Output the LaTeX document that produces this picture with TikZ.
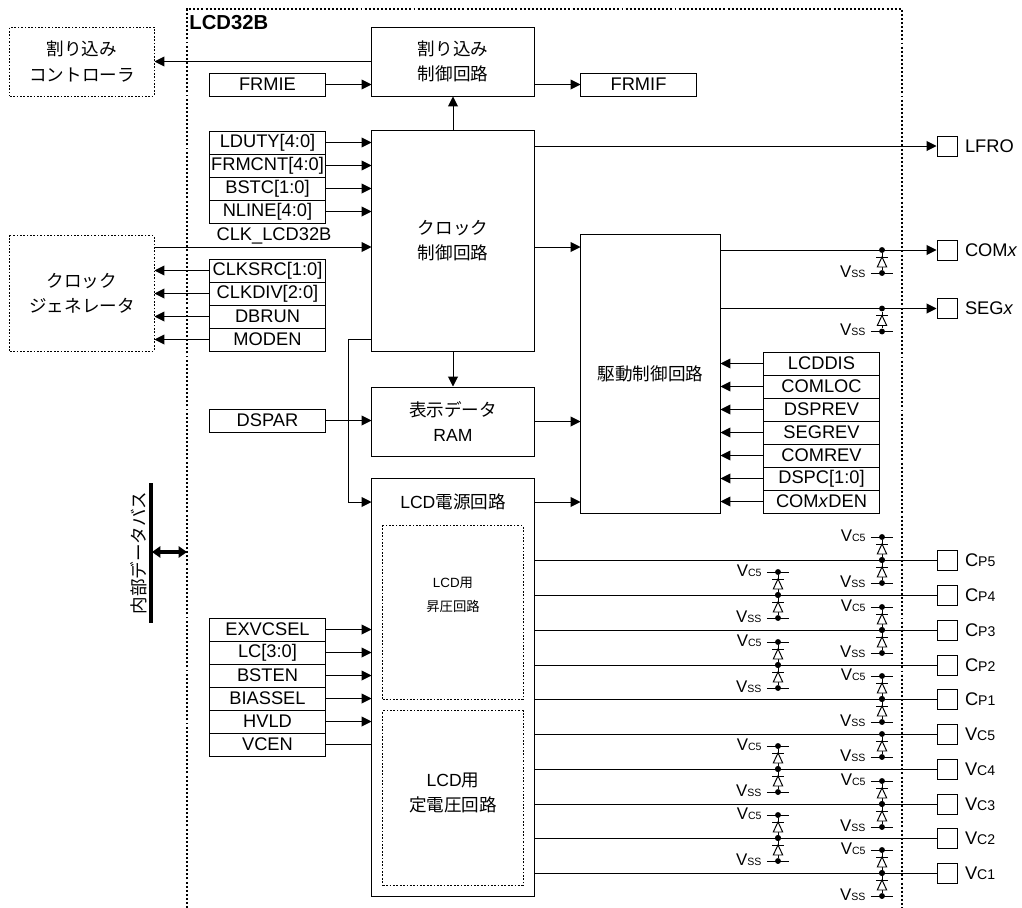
\documentclass[tikz,border=0pt]{standalone}
\usepackage{fontspec}
\setmainfont{Liberation Sans}
\newfontfamily\jpfont{Noto Sans CJK JP}
\usetikzlibrary{arrows.meta,positioning}
\newcommand{\lowtxt}[1]{{\fontsize{7.5}{9}\selectfont #1}}
\newcommand{\padlow}[1]{{\fontsize{10}{12}\selectfont #1}}
\tikzset{
	regbox/.style={draw,minimum width=2.875cm,minimum height=0.575cm,inner sep=0pt,font=\fontsize{13}{15}\selectfont},
	blockbox/.style={draw,minimum width=4.05cm,inner sep=0pt,align=center,font=\fontsize{12.5}{17.8}\selectfont\jpfont},
	extbox/.style={draw,dash pattern=on 1.2pt off 1.2pt,minimum width=3.6cm,inner sep=0pt,align=center,font=\fontsize{12.5}{17.8}\selectfont\jpfont},
	innerbox/.style={draw,dash pattern=on 1.2pt off 1.2pt,minimum width=3.5cm,inner sep=0pt},
	padbox/.style={draw,minimum size=0.5cm,inner sep=0pt},
	padtext/.style={inner sep=0pt,font=\fontsize{13}{15}\selectfont},
	clamptext/.style={inner sep=0pt,anchor=base east,font=\fontsize{12}{14}\selectfont},
	wiredot/.style={circle,fill,minimum size=4.2pt,inner sep=0pt},
	sig/.style={-{Triangle[length=7pt,width=7pt]}},
	diodepart/.pic={
		\draw[fill=white] (0,-5)--(-4.7,5)--(4.7,5)--cycle;
		\draw (-5.8,-5)--(5.8,-5);
	}
}
\begin{document}
\begin{tikzpicture}[x=0.025cm,y=-0.025cm,line width=0.7pt]
	\useasboundingbox (0,0) rectangle (1022,908);
	% module frame, open at the bottom
	\draw[line width=1.2pt,dash pattern=on 1.4pt off 1.5pt] (187,908)--(187,9)--(902,9)--(902,908);
	\node[anchor=west,inner sep=0pt,font=\fontsize{14.4}{16}\selectfont\bfseries] (modname) at (189,23) {LCD32B};
	% outside blocks
	\node[extbox,minimum height=1.725cm] (intc) at (82,61.5) {割り込み\\コントローラ};
	\node[extbox,minimum height=2.875cm] (clkgen) at (82,293.5) {クロック\\ジェネレータ};
	% main blocks
	\node[blockbox,minimum height=1.725cm] (irq) at (453,61.5) {割り込み\\制御回路};
	\node[blockbox,minimum height=5.5cm] (clkctl) at (453,241) {クロック\\制御回路};
	\node[blockbox,minimum height=1.725cm] (dram) at (453,421.5) {表示データ\\{\rmfamily RAM}};
	\node[blockbox,minimum height=10.425cm] (pwr) at (453,687.5) {};
	\node[inner sep=0pt,font=\fontsize{12.5}{15}\selectfont] (pwrname) at (453,502) {LCD{\jpfont 電源回路}};
	\node[innerbox,minimum height=4.325cm] (boost) at (453,612.5) {};
	\node[innerbox,minimum height=4.35cm] (regu) at (453,798) {};
	\node[inner sep=0pt,align=center,font=\fontsize{9.5}{17.5}\selectfont] (boosttxt) at (453,595) {LCD{\jpfont 用}\\{\jpfont 昇圧回路}};
	\node[inner sep=0pt,align=center,font=\fontsize{12.5}{17.5}\selectfont] (regutxt) at (453,793) {LCD{\jpfont 用}\\{\jpfont 定電圧回路}};
	\node[draw,minimum width=3.475cm,minimum height=6.95cm,inner sep=0pt,font=\fontsize{12.5}{15}\selectfont\jpfont] (drv) at (650.5,374) {駆動制御回路};
	% registers
	\node[regbox] (frmie) at (267.5,84.5) {FRMIE};
	\node[regbox] (frmif) at (638.5,84.5) {FRMIF};
	\node[regbox] (lduty) at (267.5,142.5) {LDUTY[4:0]};
	\node[regbox] (frmcnt) at (267.5,165.5) {FRMCNT[4:0]};
	\node[regbox] (bstc) at (267.5,188.5) {BSTC[1:0]};
	\node[regbox] (nline) at (267.5,211.5) {NLINE[4:0]};
	\node[regbox] (clksrc) at (267.5,270.5) {CLKSRC[1:0]};
	\node[regbox] (clkdiv) at (267.5,293.5) {CLKDIV[2:0]};
	\node[regbox] (dbrun) at (267.5,316.5) {DBRUN};
	\node[regbox] (moden) at (267.5,339.5) {MODEN};
	\node[regbox] (dspar) at (267.5,420.5) {DSPAR};
	\node[regbox] (exvcsel) at (267.5,629.5) {EXVCSEL};
	\node[regbox] (lcbits) at (267.5,652.5) {LC[3:0]};
	\node[regbox] (bsten) at (267.5,675.5) {BSTEN};
	\node[regbox] (biassel) at (267.5,698.5) {BIASSEL};
	\node[regbox] (hvld) at (267.5,721.5) {HVLD};
	\node[regbox] (vcen) at (267.5,744.5) {VCEN};
	\node[regbox] (lcddis) at (821.5,363.5) {LCDDIS};
	\node[regbox] (comloc) at (821.5,386.5) {COMLOC};
	\node[regbox] (dsprev) at (821.5,409.5) {DSPREV};
	\node[regbox] (segrev) at (821.5,432.5) {SEGREV};
	\node[regbox] (comrev) at (821.5,455.5) {COMREV};
	\node[regbox] (dspc) at (821.5,478.5) {DSPC[1:0]};
	\node[regbox] (comxden) at (821.5,501.5) {COM\textit{x}DEN};
	\node[inner sep=0pt,font=\fontsize{13}{15}\selectfont] (clktxt) at (274,236) {CLK\_LCD32B};
	% connections, top blocks
	\draw[sig] (irq.west) -- (intc.east);
	\draw[sig] (frmie.east) -- (irq.west |- frmie.east);
	\draw[sig] (irq.east |- frmif.west) -- (frmif.west);
	\draw[sig] (clkctl.north) -- (irq.south);
	\draw[sig] (clkctl.south) -- (dram.north);
	\foreach \reg in {lduty,frmcnt,bstc,nline}
		\draw[sig] (\reg.east) -- (clkctl.west |- \reg.east);
	\coordinate (clkrow) at (260,247);
	\draw[sig] (clkgen.east |- clkrow) -- (clkctl.west |- clkrow);
	\foreach \reg in {clksrc,clkdiv,dbrun,moden}
		\draw[sig] (\reg.west) -- (clkgen.east |- \reg.west);
	\coordinate (feedtop) at (348,339.5);
	\coordinate (feedlow) at (348,502);
	\draw[sig] (clkctl.west |- feedtop) -- (feedtop) -- (feedlow) -- (pwr.west |- feedlow);
	\draw[sig] (dspar.east) -- (dram.west |- dspar.east);
	\foreach \reg in {exvcsel,lcbits,bsten,biassel,hvld}
		\draw[sig] (\reg.east) -- (pwr.west |- \reg.east);
	\draw (vcen.east) -- (pwr.west |- vcen.east);
	% into the driver block
	\coordinate (clkdrv) at (560,247);
	\draw[sig] (clkctl.east |- clkdrv) -- (drv.west |- clkdrv);
	\draw[sig] (dram.east) -- (drv.west |- dram.east);
	\draw[sig] (pwr.east |- feedlow) -- (drv.west |- feedlow);
	\foreach \reg in {lcddis,comloc,dsprev,segrev,comrev,dspc,comxden}
		\draw[sig] (\reg.west) -- (drv.east |- \reg.west);
	% internal data bus
	\coordinate (bustop) at (151,483);
	\coordinate (buslow) at (151,623);
	\coordinate (busmid) at (152,552);
	\coordinate (busend) at (187,552);
	\draw[line width=2.8pt] (bustop) -- (buslow);
	\draw[line width=2.2pt,{Triangle[length=6pt,width=8pt]}-{Triangle[length=6pt,width=8pt]}] (busmid) -- (busend);
	\node[rotate=90,inner sep=0pt,font=\fontsize{12.5}{15}\selectfont\jpfont] (bustxt) at (139,553) {内部データバス};
	% pads
	\node[padbox] (lfro) at (947,146) {};
	\node[padbox] (comx) at (947,250) {};
	\node[padbox] (segx) at (947,308.5) {};
	\foreach \pad/\py/\ptxt in {cpa/560/C\padlow{P5},cpb/595/C\padlow{P4},cpc/630/C\padlow{P3},cpd/665/C\padlow{P2},cpe/699/C\padlow{P1},
			vca/734/V\padlow{C5},vcb/769/V\padlow{C4},vcc/804/V\padlow{C3},vcd/838/V\padlow{C2},vce/873/V\padlow{C1}} {
		\node[padbox] (\pad) at (947,\py) {};
		\node[padtext,right=5pt of \pad] (\pad txt) {\ptxt};
		\draw (pwr.east |- \pad.west) -- (\pad.west);
	}
	\node[padtext,right=5pt of lfro] (lfrotxt) {LFRO};
	\node[padtext,right=5pt of comx] (comxtxt) {COM\textit{x}};
	\node[padtext,right=5pt of segx] (segxtxt) {SEG\textit{x}};
	\draw[sig] (clkctl.east |- lfro.west) -- (lfro.west);
	\draw[sig] (drv.east |- comx.west) -- (comx.west);
	\draw[sig] (drv.east |- segx.west) -- (segx.west);
	% diodes down to VSS
	\foreach \cx/\cy in {882/250,882/308.5,882/560,778/595,882/630,778/665,882/699,882/734,778/769,882/804,778/838,882/873} {
		\node[wiredot] (mid) at (\cx,\cy) {};
		\node[wiredot] (low) at (\cx,\cy+23) {};
		\draw (mid) -- (low);
		\draw ([xshift=-8pt]low.center) -- ([xshift=8pt]low.center);
		\pic at (\cx,\cy+12) {diodepart};
		\node[clamptext] (lowtxt) at (\cx-16,\cy+27) {V\lowtxt{SS}};
	}
	% diodes up to VC5
	\foreach \cx/\cy in {882/560,778/595,882/630,778/665,882/699,778/769,882/804,778/838,882/873} {
		\node[wiredot] (mid) at (\cx,\cy) {};
		\node[wiredot] (high) at (\cx,\cy-23) {};
		\draw (mid) -- (high);
		\draw ([xshift=-8pt]high.center) -- ([xshift=8pt]high.center);
		\pic at (\cx,\cy-11) {diodepart};
		\node[clamptext] (hightxt) at (\cx-16,\cy-19) {V\lowtxt{C5}};
	}
\end{tikzpicture}
\end{document}
